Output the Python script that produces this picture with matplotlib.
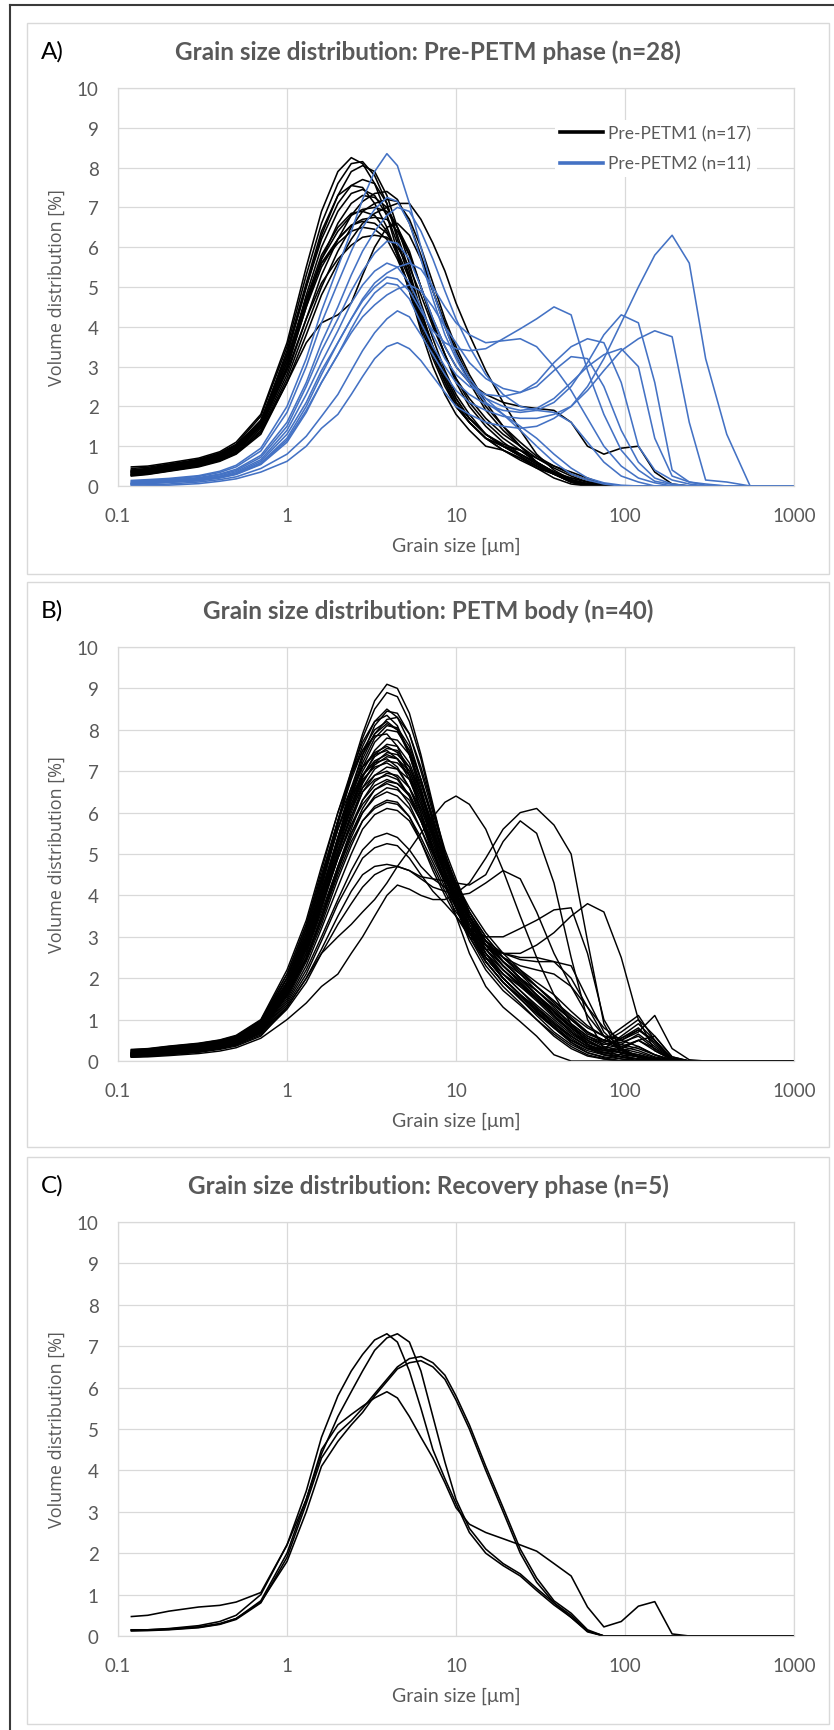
import matplotlib.pyplot as plt
from matplotlib.lines import Line2D
from matplotlib.patches import Rectangle

# grain size classes [um] shared by every measurement
grain_size = [0.12, 0.15, 0.2, 0.3, 0.4, 0.5, 0.7,
              1.0, 1.3, 1.6, 2.0, 2.4, 2.8, 3.3, 3.9, 4.5, 5.3, 6.2, 7.3, 8.6,
              10, 12, 15, 19, 24, 30, 38, 48, 60, 75, 95,
              120, 150, 190, 240, 300, 400, 550, 1000]

# A) Pre-PETM1 samples (volume %)
pre_petm1 = [
    [0.48, 0.5, 0.58, 0.7, 0.86, 1.1, 1.8, 3.6, 5.5, 6.9, 7.9, 8.25, 8.1, 7.6, 6.8, 5.9, 4.9, 3.9, 3.0, 2.3, 1.8, 1.4, 1.0, 0.9, 0.7, 0.45, 0.2, 0.05, 0, 0, 0, 0, 0, 0, 0, 0, 0, 0, 0],
    [0.44, 0.47, 0.55, 0.67, 0.83, 1.05, 1.75, 3.5, 5.3, 6.6, 7.6, 8.1, 8.15, 7.8, 7.1, 6.2, 5.2, 4.2, 3.3, 2.6, 2.0, 1.6, 1.2, 1.0, 0.8, 0.55, 0.3, 0.1, 0, 0, 0, 0, 0, 0, 0, 0, 0, 0, 0],
    [0.4, 0.43, 0.52, 0.64, 0.8, 1.0, 1.65, 3.3, 5.0, 6.3, 7.3, 7.9, 8.05, 7.9, 7.3, 6.5, 5.6, 4.6, 3.7, 2.9, 2.3, 1.8, 1.3, 1.0, 0.8, 0.6, 0.35, 0.15, 0.05, 0, 0, 0, 0, 0, 0, 0, 0, 0, 0],
    [0.36, 0.4, 0.49, 0.61, 0.77, 0.97, 1.6, 3.4, 5.1, 6.4, 7.3, 7.55, 7.5, 7.1, 6.5, 5.8, 4.9, 4.0, 3.2, 2.5, 2.0, 1.6, 1.2, 1.0, 0.9, 0.6, 0.3, 0.1, 0, 0, 0, 0, 0, 0, 0, 0, 0, 0, 0],
    [0.34, 0.38, 0.47, 0.59, 0.75, 0.95, 1.55, 3.1, 4.8, 6.0, 6.9, 7.35, 7.45, 7.3, 6.8, 6.1, 5.3, 4.4, 3.5, 2.7, 2.1, 1.7, 1.3, 1.05, 0.9, 0.7, 0.5, 0.35, 0.2, 0.05, 0, 0, 0, 0, 0, 0, 0, 0, 0],
    [0.3, 0.34, 0.43, 0.55, 0.7, 0.9, 1.5, 2.95, 4.5, 5.7, 6.6, 7.1, 7.3, 7.25, 7.0, 6.5, 5.8, 5.0, 4.2, 3.5, 3.0, 2.6, 2.3, 2.1, 2.0, 1.95, 1.9, 1.6, 1.0, 0.8, 0.95, 1.0, 0.35, 0.05, 0, 0, 0, 0, 0],
    [0.28, 0.32, 0.4, 0.52, 0.66, 0.85, 1.4, 2.8, 4.2, 5.3, 6.2, 6.8, 7.15, 7.35, 7.4, 7.2, 6.6, 5.8, 4.9, 4.0, 3.3, 2.6, 1.9, 1.4, 1.0, 0.6, 0.3, 0.1, 0.02, 0, 0, 0, 0, 0, 0, 0, 0, 0, 0],
    [0.27, 0.3, 0.38, 0.5, 0.64, 0.82, 1.35, 2.7, 4.0, 5.0, 5.9, 6.5, 6.9, 7.1, 7.2, 7.15, 6.7, 6.0, 5.1, 4.2, 3.5, 2.8, 2.1, 1.5, 1.0, 0.6, 0.35, 0.15, 0.05, 0, 0, 0, 0, 0, 0, 0, 0, 0, 0],
    [0.25, 0.29, 0.37, 0.48, 0.62, 0.8, 1.3, 2.6, 3.8, 4.8, 5.6, 6.2, 6.6, 6.85, 7.0, 7.1, 7.1, 6.7, 6.1, 5.4, 4.6, 3.8, 2.9, 2.1, 1.4, 0.8, 0.4, 0.15, 0.05, 0, 0, 0, 0, 0, 0, 0, 0, 0, 0],
    [0.32, 0.36, 0.45, 0.57, 0.73, 0.93, 1.5, 3.0, 4.5, 5.5, 6.2, 6.55, 6.7, 6.75, 6.7, 6.4, 5.8, 5.0, 4.1, 3.3, 2.6, 2.0, 1.5, 1.1, 0.8, 0.55, 0.35, 0.2, 0.1, 0.03, 0, 0, 0, 0, 0, 0, 0, 0, 0],
    [0.36, 0.4, 0.49, 0.61, 0.77, 0.96, 1.55, 3.1, 4.6, 5.6, 6.2, 6.55, 6.65, 6.6, 6.35, 5.9, 5.2, 4.3, 3.5, 2.8, 2.2, 1.7, 1.3, 1.0, 0.75, 0.5, 0.3, 0.15, 0.05, 0, 0, 0, 0, 0, 0, 0, 0, 0, 0],
    [0.38, 0.42, 0.51, 0.63, 0.8, 1.0, 1.6, 3.2, 4.7, 5.6, 6.1, 6.4, 6.5, 6.45, 6.2, 5.7, 5.0, 4.2, 3.4, 2.7, 2.1, 1.6, 1.2, 0.9, 0.65, 0.45, 0.3, 0.2, 0.1, 0.03, 0, 0, 0, 0, 0, 0, 0, 0, 0],
    [0.32, 0.36, 0.45, 0.57, 0.72, 0.92, 1.5, 3.0, 4.6, 5.7, 6.4, 6.8, 6.95, 7.0, 6.9, 6.5, 5.9, 5.0, 4.1, 3.3, 2.7, 2.1, 1.6, 1.2, 0.9, 0.6, 0.35, 0.15, 0.05, 0, 0, 0, 0, 0, 0, 0, 0, 0, 0],
    [0.4, 0.44, 0.53, 0.65, 0.81, 1.02, 1.65, 3.3, 5.0, 6.2, 7.1, 7.55, 7.7, 7.6, 7.1, 6.3, 5.4, 4.4, 3.5, 2.8, 2.2, 1.7, 1.3, 1.0, 0.75, 0.5, 0.3, 0.1, 0.03, 0, 0, 0, 0, 0, 0, 0, 0, 0, 0],
    [0.35, 0.39, 0.48, 0.6, 0.76, 0.96, 1.55, 3.2, 4.7, 5.8, 6.5, 6.85, 6.9, 6.8, 6.4, 5.8, 5.0, 4.1, 3.3, 2.6, 2.0, 1.6, 1.2, 0.9, 0.7, 0.5, 0.3, 0.15, 0.05, 0, 0, 0, 0, 0, 0, 0, 0, 0, 0],
    [0.27, 0.31, 0.39, 0.5, 0.64, 0.82, 1.35, 2.6, 3.6, 4.1, 4.3, 4.6, 5.3, 6.0, 6.5, 6.6, 6.3, 5.7, 4.9, 4.1, 3.4, 2.7, 2.0, 1.5, 1.1, 0.75, 0.5, 0.3, 0.15, 0.05, 0, 0, 0, 0, 0, 0, 0, 0, 0],
    [0.29, 0.33, 0.41, 0.53, 0.68, 0.87, 1.45, 2.9, 4.2, 5.1, 5.7, 6.05, 6.25, 6.3, 6.25, 6.0, 5.5, 4.8, 4.0, 3.3, 2.7, 2.2, 1.7, 1.3, 1.0, 0.7, 0.45, 0.25, 0.1, 0.03, 0, 0, 0, 0, 0, 0, 0, 0, 0],
]

# A) Pre-PETM2 samples
pre_petm2 = [
    [0.14, 0.16, 0.19, 0.26, 0.37, 0.52, 0.95, 2.0, 3.2, 4.4, 5.5, 6.4, 7.2, 7.9, 8.35, 8.05, 7.1, 6.0, 4.9, 4.0, 3.3, 2.7, 2.2, 1.8, 1.4, 1.0, 0.6, 0.3, 0.15, 0.05, 0, 0, 0, 0, 0, 0, 0, 0, 0],
    [0.12, 0.14, 0.17, 0.24, 0.34, 0.48, 0.88, 1.85, 3.0, 4.1, 5.1, 5.9, 6.5, 6.95, 7.25, 7.15, 6.6, 5.7, 4.7, 3.8, 3.2, 2.6, 2.1, 1.8, 1.5, 1.2, 0.8, 0.45, 0.2, 0.08, 0.02, 0, 0, 0, 0, 0, 0, 0, 0],
    [0.1, 0.12, 0.15, 0.21, 0.3, 0.42, 0.77, 1.6, 2.6, 3.6, 4.5, 5.3, 5.9, 6.4, 6.8, 7.0, 6.9, 6.4, 5.7, 4.9, 4.2, 3.5, 2.8, 2.3, 2.0, 1.9, 1.85, 1.6, 1.1, 0.6, 0.25, 0.1, 0, 0, 0, 0, 0, 0, 0],
    [0.08, 0.1, 0.13, 0.19, 0.28, 0.39, 0.72, 1.5, 2.5, 3.4, 4.2, 4.9, 5.4, 5.85, 6.15, 6.1, 5.7, 5.0, 4.2, 3.5, 3.0, 2.6, 2.2, 2.0, 1.9, 1.95, 2.2, 2.6, 3.0, 3.3, 3.45, 3.0, 1.2, 0.25, 0.1, 0.02, 0, 0, 0],
    [0.07, 0.09, 0.12, 0.17, 0.25, 0.36, 0.66, 1.4, 2.3, 3.1, 3.9, 4.6, 5.05, 5.4, 5.6, 5.5, 5.1, 4.5, 3.8, 3.2, 2.8, 2.5, 2.3, 2.25, 2.35, 2.6, 3.1, 3.5, 3.7, 3.6, 2.6, 1.0, 0.4, 0.15, 0.05, 0, 0, 0, 0],
    [0.06, 0.08, 0.11, 0.16, 0.23, 0.33, 0.62, 1.3, 2.1, 2.9, 3.6, 4.2, 4.7, 5.1, 5.35, 5.5, 5.6, 5.45, 5.0, 4.5, 4.1, 3.8, 3.6, 3.65, 3.7, 3.5, 3.0, 2.4, 1.7, 1.0, 0.5, 0.2, 0.08, 0, 0, 0, 0, 0, 0],
    [0.05, 0.07, 0.1, 0.15, 0.22, 0.31, 0.58, 1.2, 2.0, 2.8, 3.6, 4.2, 4.65, 5.0, 5.25, 5.2, 4.9, 4.4, 3.9, 3.6, 3.45, 3.4, 3.45, 3.7, 3.95, 4.2, 4.5, 4.3, 2.9, 1.8, 0.9, 0.4, 0.12, 0.04, 0, 0, 0, 0, 0],
    [0.04, 0.06, 0.09, 0.13, 0.2, 0.29, 0.54, 1.1, 1.85, 2.6, 3.3, 3.95, 4.45, 4.85, 5.1, 5.05, 4.7, 4.1, 3.5, 3.0, 2.6, 2.3, 2.05, 1.9, 1.85, 1.9, 2.1, 2.5, 3.1, 3.8, 4.3, 4.1, 2.6, 0.4, 0.1, 0.05, 0, 0, 0],
    [0.02, 0.03, 0.05, 0.1, 0.16, 0.23, 0.44, 0.8, 1.25, 1.75, 2.3, 2.9, 3.4, 3.85, 4.2, 4.4, 4.25, 3.8, 3.3, 2.8, 2.4, 2.1, 1.9, 1.75, 1.7, 1.7, 1.8, 2.0, 2.4, 2.9, 3.4, 3.7, 3.9, 3.75, 1.6, 0.15, 0.1, 0, 0],
    [0.0, 0.01, 0.02, 0.06, 0.12, 0.18, 0.35, 0.62, 1.0, 1.45, 1.8, 2.3, 2.75, 3.2, 3.5, 3.6, 3.45, 3.15, 2.75, 2.35, 2.0, 1.8, 1.6, 1.5, 1.45, 1.5, 1.7, 2.0, 2.5, 3.2, 4.1, 5.0, 5.8, 6.3, 5.6, 3.2, 1.3, 0, 0],
    [0.05, 0.07, 0.1, 0.14, 0.21, 0.3, 0.56, 1.15, 1.9, 2.6, 3.3, 3.85, 4.25, 4.55, 4.8, 4.95, 5.05, 4.9, 4.5, 4.0, 3.6, 3.1, 2.7, 2.45, 2.35, 2.5, 2.9, 3.25, 3.2, 2.5, 1.4, 0.6, 0.2, 0.05, 0, 0, 0, 0, 0],
]

# B) PETM body samples
petm_body = [
    [0.2, 0.22, 0.27, 0.34, 0.42, 0.52, 0.88, 1.9, 3.1, 4.3, 5.8, 7.0, 7.9, 8.7, 9.1, 9.0, 8.4, 7.4, 6.2, 5.0, 4.1, 3.2, 2.4, 1.9, 1.5, 1.1, 0.7, 0.4, 0.2, 0.1, 0.05, 0, 0, 0, 0, 0, 0, 0, 0],
    [0.18, 0.2, 0.25, 0.32, 0.4, 0.5, 0.85, 1.85, 3.0, 4.2, 5.7, 6.9, 7.8, 8.5, 8.9, 8.8, 8.2, 7.3, 6.1, 5.0, 4.2, 3.4, 2.6, 2.0, 1.6, 1.2, 0.8, 0.45, 0.25, 0.15, 0.1, 0.05, 0, 0, 0, 0, 0, 0, 0],
    [0.25, 0.27, 0.32, 0.4, 0.48, 0.58, 0.95, 2.0, 3.2, 4.4, 5.8, 6.9, 7.6, 8.2, 8.5, 8.3, 7.7, 6.8, 5.8, 4.8, 4.0, 3.2, 2.5, 2.0, 1.6, 1.2, 0.85, 0.5, 0.3, 0.2, 0.25, 0.35, 0.15, 0, 0, 0, 0, 0, 0],
    [0.16, 0.18, 0.23, 0.3, 0.38, 0.48, 0.82, 1.8, 2.9, 4.0, 5.4, 6.5, 7.4, 8.1, 8.45, 8.4, 7.9, 7.0, 6.0, 5.0, 4.3, 3.5, 2.8, 2.3, 1.9, 1.5, 1.1, 0.7, 0.4, 0.25, 0.3, 0.5, 0.3, 0.05, 0, 0, 0, 0, 0],
    [0.27, 0.29, 0.35, 0.42, 0.5, 0.6, 0.98, 2.1, 3.3, 4.6, 6.0, 7.0, 7.7, 8.2, 8.35, 8.1, 7.4, 6.5, 5.5, 4.5, 3.7, 2.9, 2.2, 1.7, 1.35, 1.0, 0.6, 0.3, 0.12, 0.05, 0, 0, 0, 0, 0, 0, 0, 0, 0],
    [0.15, 0.17, 0.22, 0.29, 0.37, 0.47, 0.8, 1.7, 2.8, 3.9, 5.3, 6.4, 7.3, 7.9, 8.25, 8.3, 7.9, 7.1, 6.1, 5.1, 4.4, 3.6, 2.9, 2.4, 2.0, 1.6, 1.2, 0.8, 0.5, 0.3, 0.2, 0.1, 0.03, 0, 0, 0, 0, 0, 0],
    [0.23, 0.25, 0.3, 0.38, 0.46, 0.56, 0.93, 2.0, 3.2, 4.4, 5.8, 6.8, 7.5, 8.0, 8.2, 8.0, 7.4, 6.5, 5.5, 4.6, 3.9, 3.1, 2.4, 1.9, 1.5, 1.15, 0.8, 0.5, 0.3, 0.3, 0.55, 0.8, 0.4, 0.05, 0, 0, 0, 0, 0],
    [0.2, 0.22, 0.27, 0.35, 0.43, 0.53, 0.9, 1.9, 3.0, 4.2, 5.6, 6.6, 7.4, 7.9, 8.15, 8.0, 7.5, 6.6, 5.6, 4.7, 4.0, 3.2, 2.5, 2.0, 1.6, 1.25, 0.9, 0.6, 0.35, 0.2, 0.15, 0.1, 0.05, 0, 0, 0, 0, 0, 0],
    [0.17, 0.19, 0.24, 0.31, 0.39, 0.49, 0.83, 1.75, 2.85, 3.95, 5.3, 6.4, 7.2, 7.8, 8.1, 8.05, 7.6, 6.8, 5.8, 4.9, 4.2, 3.4, 2.7, 2.2, 1.8, 1.45, 1.05, 0.7, 0.45, 0.3, 0.4, 0.65, 0.35, 0.05, 0, 0, 0, 0, 0],
    [0.21, 0.23, 0.28, 0.36, 0.44, 0.54, 0.9, 1.9, 3.0, 4.1, 5.4, 6.4, 7.1, 7.7, 8.0, 7.95, 7.5, 6.8, 5.9, 4.9, 4.1, 3.3, 2.6, 2.1, 1.7, 1.3, 0.9, 0.55, 0.3, 0.15, 0.1, 0.05, 0.02, 0, 0, 0, 0, 0, 0],
    [0.28, 0.3, 0.36, 0.43, 0.51, 0.62, 1.0, 2.2, 3.4, 4.7, 6.0, 6.9, 7.5, 7.85, 7.9, 7.6, 6.9, 6.0, 5.1, 4.3, 3.5, 2.6, 1.8, 1.3, 0.95, 0.6, 0.15, 0, 0, 0, 0, 0, 0, 0, 0, 0, 0, 0, 0],
    [0.18, 0.2, 0.25, 0.32, 0.4, 0.5, 0.85, 1.8, 2.9, 4.0, 5.3, 6.3, 7.0, 7.5, 7.8, 7.75, 7.4, 6.7, 5.8, 4.9, 4.2, 3.5, 2.8, 2.3, 1.9, 1.55, 1.2, 0.85, 0.55, 0.4, 0.5, 0.75, 0.45, 0.05, 0, 0, 0, 0, 0],
    [0.16, 0.18, 0.23, 0.3, 0.38, 0.48, 0.8, 1.7, 2.7, 3.8, 5.1, 6.1, 6.85, 7.4, 7.65, 7.6, 7.2, 6.5, 5.7, 4.9, 4.2, 3.5, 2.9, 2.4, 2.0, 1.6, 1.2, 0.8, 0.5, 0.3, 0.2, 0.1, 0.05, 0, 0, 0, 0, 0, 0],
    [0.24, 0.26, 0.31, 0.39, 0.47, 0.57, 0.93, 2.0, 3.1, 4.3, 5.6, 6.5, 7.1, 7.45, 7.6, 7.45, 7.0, 6.3, 5.4, 4.6, 3.9, 3.1, 2.4, 1.9, 1.55, 1.2, 0.85, 0.5, 0.3, 0.2, 0.3, 0.5, 0.6, 0.1, 0, 0, 0, 0, 0],
    [0.19, 0.21, 0.26, 0.33, 0.41, 0.51, 0.86, 1.85, 2.9, 4.0, 5.3, 6.2, 6.9, 7.35, 7.55, 7.5, 7.1, 6.4, 5.6, 4.8, 4.1, 3.4, 2.7, 2.2, 1.85, 1.5, 1.15, 0.8, 0.5, 0.3, 0.2, 0.1, 0.05, 0, 0, 0, 0, 0, 0],
    [0.26, 0.28, 0.34, 0.41, 0.49, 0.6, 0.97, 2.1, 3.3, 4.5, 5.8, 6.6, 7.1, 7.4, 7.5, 7.3, 6.8, 6.1, 5.3, 4.5, 3.8, 3.0, 2.3, 1.8, 1.4, 1.0, 0.65, 0.35, 0.15, 0.05, 0, 0, 0, 0, 0, 0, 0, 0, 0],
    [0.14, 0.16, 0.21, 0.28, 0.36, 0.46, 0.77, 1.6, 2.6, 3.7, 5.0, 6.0, 6.7, 7.2, 7.45, 7.4, 7.1, 6.5, 5.7, 4.9, 4.3, 3.6, 3.0, 2.5, 2.1, 1.7, 1.3, 0.9, 0.6, 0.45, 0.7, 1.0, 0.6, 0.1, 0, 0, 0, 0, 0],
    [0.2, 0.22, 0.27, 0.35, 0.43, 0.53, 0.88, 1.9, 3.0, 4.1, 5.4, 6.3, 6.9, 7.25, 7.4, 7.3, 6.9, 6.2, 5.4, 4.6, 3.9, 3.2, 2.5, 2.0, 1.6, 1.25, 0.9, 0.6, 0.35, 0.25, 0.35, 0.5, 0.25, 0.03, 0, 0, 0, 0, 0],
    [0.17, 0.19, 0.24, 0.31, 0.39, 0.49, 0.82, 1.75, 2.8, 3.9, 5.2, 6.1, 6.75, 7.15, 7.35, 7.3, 7.0, 6.4, 5.6, 4.8, 4.2, 3.5, 2.8, 2.3, 1.9, 1.5, 1.1, 0.75, 0.45, 0.3, 0.2, 0.15, 0.05, 0, 0, 0, 0, 0, 0],
    [0.23, 0.25, 0.3, 0.38, 0.46, 0.56, 0.92, 2.0, 3.2, 4.4, 5.6, 6.4, 6.9, 7.2, 7.3, 7.1, 6.6, 5.9, 5.1, 4.4, 3.8, 3.1, 2.5, 2.0, 1.6, 1.3, 0.95, 0.6, 0.35, 0.3, 0.6, 0.9, 0.5, 0.05, 0, 0, 0, 0, 0],
    [0.15, 0.17, 0.22, 0.29, 0.37, 0.47, 0.78, 1.7, 2.7, 3.8, 5.0, 5.9, 6.6, 7.05, 7.25, 7.2, 6.9, 6.3, 5.5, 4.8, 4.2, 3.5, 2.9, 2.4, 2.0, 1.7, 1.35, 1.0, 0.7, 0.5, 0.4, 0.3, 0.15, 0.03, 0, 0, 0, 0, 0],
    [0.19, 0.21, 0.26, 0.34, 0.42, 0.52, 0.86, 1.85, 2.9, 4.0, 5.3, 6.2, 6.8, 7.1, 7.2, 7.05, 6.6, 6.0, 5.2, 4.5, 3.9, 3.2, 2.6, 2.1, 1.7, 1.35, 1.0, 0.65, 0.4, 0.25, 0.2, 0.15, 0.05, 0, 0, 0, 0, 0, 0],
    [0.13, 0.15, 0.2, 0.27, 0.35, 0.44, 0.74, 1.65, 2.6, 3.7, 4.9, 5.8, 6.5, 6.9, 7.1, 7.05, 6.8, 6.2, 5.5, 4.8, 4.3, 3.7, 3.1, 2.6, 2.2, 1.8, 1.4, 1.0, 0.65, 0.5, 0.8, 1.1, 0.5, 0.05, 0, 0, 0, 0, 0],
    [0.22, 0.24, 0.29, 0.37, 0.45, 0.55, 0.9, 1.9, 3.0, 4.1, 5.3, 6.1, 6.6, 6.9, 7.0, 6.85, 6.4, 5.8, 5.0, 4.3, 3.7, 3.0, 2.4, 1.9, 1.5, 1.15, 0.8, 0.45, 0.2, 0.08, 0, 0, 0, 0, 0, 0, 0, 0, 0],
    [0.12, 0.14, 0.19, 0.26, 0.34, 0.43, 0.72, 1.6, 2.5, 3.5, 4.7, 5.6, 6.3, 6.75, 6.95, 6.9, 6.6, 6.1, 5.4, 4.7, 4.2, 3.6, 3.0, 2.5, 2.15, 1.8, 1.45, 1.1, 0.8, 0.6, 0.5, 0.7, 1.1, 0.3, 0.03, 0, 0, 0, 0],
    [0.18, 0.2, 0.25, 0.33, 0.41, 0.51, 0.84, 1.8, 2.8, 3.9, 5.1, 5.9, 6.5, 6.8, 6.9, 6.8, 6.4, 5.8, 5.1, 4.4, 3.8, 3.1, 2.5, 2.1, 1.8, 1.5, 1.2, 0.85, 0.55, 0.35, 0.25, 0.15, 0.05, 0, 0, 0, 0, 0, 0],
    [0.16, 0.18, 0.23, 0.31, 0.39, 0.49, 0.8, 1.7, 2.7, 3.7, 4.9, 5.7, 6.3, 6.65, 6.8, 6.7, 6.4, 5.8, 5.1, 4.4, 3.9, 3.2, 2.7, 2.3, 1.95, 1.6, 1.25, 0.9, 0.6, 0.4, 0.45, 0.6, 0.3, 0.03, 0, 0, 0, 0, 0],
    [0.13, 0.15, 0.2, 0.27, 0.35, 0.45, 0.74, 1.55, 2.45, 3.4, 4.6, 5.5, 6.1, 6.55, 6.75, 6.7, 6.45, 5.9, 5.3, 4.6, 4.0, 3.4, 2.8, 2.4, 2.0, 1.7, 1.35, 1.0, 0.7, 0.5, 0.35, 0.25, 0.1, 0.02, 0, 0, 0, 0, 0],
    [0.17, 0.19, 0.24, 0.32, 0.4, 0.5, 0.82, 1.75, 2.75, 3.8, 4.9, 5.7, 6.2, 6.55, 6.7, 6.6, 6.2, 5.6, 4.9, 4.3, 3.7, 3.1, 2.6, 2.2, 1.85, 1.5, 1.1, 0.7, 0.4, 0.2, 0.1, 0.05, 0, 0, 0, 0, 0, 0, 0],
    [0.14, 0.16, 0.21, 0.28, 0.36, 0.46, 0.76, 1.6, 2.5, 3.5, 4.6, 5.4, 6.0, 6.4, 6.6, 6.55, 6.3, 5.8, 5.2, 4.5, 4.0, 3.4, 2.9, 2.5, 2.2, 1.9, 1.6, 1.2, 0.85, 0.6, 0.55, 0.75, 0.5, 0.05, 0, 0, 0, 0, 0],
    [0.15, 0.17, 0.22, 0.3, 0.38, 0.47, 0.78, 1.7, 2.6, 3.6, 4.7, 5.5, 6.0, 6.35, 6.5, 6.4, 6.1, 5.6, 5.0, 4.4, 3.9, 3.3, 2.8, 2.4, 2.1, 1.8, 1.45, 1.05, 0.7, 0.45, 0.3, 0.2, 0.08, 0, 0, 0, 0, 0, 0],
    [0.13, 0.15, 0.2, 0.27, 0.35, 0.44, 0.73, 1.5, 2.4, 3.3, 4.4, 5.2, 5.8, 6.15, 6.3, 6.25, 5.9, 5.3, 4.6, 4.0, 3.5, 3.0, 2.7, 2.6, 2.6, 2.8, 3.1, 3.5, 3.8, 3.6, 2.5, 1.0, 0.25, 0.03, 0, 0, 0, 0, 0],
    [0.16, 0.18, 0.23, 0.3, 0.38, 0.48, 0.8, 1.6, 2.5, 3.4, 4.5, 5.3, 5.8, 6.1, 6.25, 6.2, 5.9, 5.4, 4.8, 4.2, 3.7, 3.2, 2.8, 2.5, 2.3, 2.2, 2.1, 1.8, 1.3, 0.8, 0.5, 0.35, 0.15, 0.02, 0, 0, 0, 0, 0],
    [0.12, 0.14, 0.19, 0.26, 0.34, 0.43, 0.71, 1.45, 2.3, 3.2, 4.2, 5.0, 5.6, 5.95, 6.1, 6.05, 5.8, 5.3, 4.7, 4.1, 3.6, 3.2, 3.0, 3.0, 3.2, 3.4, 3.65, 3.7, 2.6, 1.0, 0.3, 0.1, 0, 0, 0, 0, 0, 0, 0],
    [0.12, 0.14, 0.18, 0.25, 0.33, 0.42, 0.7, 1.4, 2.2, 3.0, 3.9, 4.6, 5.1, 5.4, 5.5, 5.4, 5.1, 4.7, 4.4, 4.2, 4.0, 4.05, 4.3, 4.6, 4.4, 3.6, 2.6, 1.8, 1.1, 0.6, 0.3, 0.1, 0, 0, 0, 0, 0, 0, 0],
    [0.11, 0.13, 0.17, 0.24, 0.32, 0.41, 0.68, 1.35, 2.1, 2.9, 3.8, 4.4, 4.9, 5.15, 5.25, 5.2, 4.9, 4.5, 4.1, 3.8, 3.5, 3.1, 2.8, 2.6, 2.45, 2.4, 2.4, 2.3, 1.5, 0.7, 0.3, 0.1, 0, 0, 0, 0, 0, 0, 0],
    [0.11, 0.13, 0.17, 0.23, 0.31, 0.4, 0.66, 1.3, 2.0, 2.7, 3.5, 4.1, 4.5, 4.7, 4.75, 4.7, 4.6, 4.45, 4.4, 4.35, 4.3, 4.25, 4.5, 5.3, 5.8, 5.5, 4.3, 2.5, 1.0, 0.3, 0.1, 0, 0, 0, 0, 0, 0, 0, 0],
    [0.1, 0.12, 0.16, 0.22, 0.3, 0.38, 0.63, 1.25, 1.9, 2.6, 3.3, 3.8, 4.2, 4.5, 4.65, 4.7, 4.6, 4.4, 4.2, 4.1, 4.0, 3.5, 2.9, 2.6, 2.5, 2.5, 2.4, 2.0, 1.3, 0.6, 0.25, 0.1, 0, 0, 0, 0, 0, 0, 0],
    [0.09, 0.1, 0.13, 0.18, 0.24, 0.32, 0.55, 1.0, 1.4, 1.8, 2.1, 2.6, 3.0, 3.5, 4.0, 4.25, 4.15, 4.0, 3.9, 3.9, 4.05, 4.3, 4.9, 5.6, 6.0, 6.1, 5.7, 5.0, 2.9, 0.9, 0.15, 0.03, 0, 0, 0, 0, 0, 0, 0],
    [0.1, 0.12, 0.15, 0.21, 0.28, 0.36, 0.6, 1.3, 2.0, 2.6, 3.0, 3.3, 3.6, 3.9, 4.3, 4.7, 5.1, 5.5, 5.9, 6.25, 6.4, 6.2, 5.6, 4.6, 3.5, 2.5, 1.6, 0.9, 0.4, 0.15, 0.05, 0, 0, 0, 0, 0, 0, 0, 0],
]

# C) Recovery phase samples
recovery = [
    [0.15, 0.15, 0.18, 0.25, 0.35, 0.5, 1.0, 2.2, 3.5, 4.8, 5.8, 6.4, 6.8, 7.15, 7.3, 7.1, 6.4, 5.5, 4.5, 3.8, 3.2, 2.5, 2.0, 1.7, 1.45, 1.1, 0.75, 0.45, 0.1, 0, 0, 0, 0, 0, 0, 0, 0, 0, 0],
    [0.15, 0.15, 0.17, 0.22, 0.3, 0.42, 0.85, 2.0, 3.3, 4.4, 5.3, 5.9, 6.4, 6.9, 7.2, 7.3, 7.1, 6.4, 5.3, 4.2, 3.3, 2.6, 2.1, 1.75, 1.5, 1.15, 0.8, 0.45, 0.12, 0, 0, 0, 0, 0, 0, 0, 0, 0, 0],
    [0.12, 0.13, 0.15, 0.2, 0.28, 0.4, 0.8, 1.9, 3.2, 4.3, 4.9, 5.2, 5.5, 5.85, 6.2, 6.5, 6.7, 6.75, 6.6, 6.3, 5.8, 5.1, 4.1, 3.1, 2.1, 1.4, 0.85, 0.55, 0.15, 0, 0, 0, 0, 0, 0, 0, 0, 0, 0],
    [0.14, 0.14, 0.16, 0.21, 0.29, 0.42, 0.82, 1.8, 3.0, 4.1, 4.7, 5.1, 5.4, 5.8, 6.15, 6.45, 6.6, 6.65, 6.5, 6.2, 5.7, 5.0, 4.0, 3.0, 2.0, 1.3, 0.8, 0.5, 0.12, 0, 0, 0, 0, 0, 0, 0, 0, 0, 0],
    [0.47, 0.5, 0.6, 0.7, 0.74, 0.82, 1.05, 2.2, 3.3, 4.5, 5.1, 5.35, 5.55, 5.75, 5.9, 5.75, 5.3, 4.8, 4.3, 3.7, 3.1, 2.7, 2.5, 2.35, 2.2, 2.05, 1.75, 1.45, 0.7, 0.22, 0.35, 0.72, 0.83, 0.05, 0, 0, 0, 0, 0],
]

x_ticks = [0.1, 1, 10, 100, 1000]
x_tick_labels = ["0.1", "1", "10", "100", "1000"]
y_ticks = list(range(0, 11))

BLACK = "#000000"
BLUE = "#4472C4"
GRAY = "#595959"
GRID = "#d9d9d9"

W, H = 834, 1731
fig = plt.figure(figsize=(W / 100, H / 100), dpi=100)


def fx(px):
    return px / W


def fy(py):
    return 1 - py / H


# outer frame (only top/left edges show in the crop)
fig.add_artist(Line2D([fx(9.5), fx(9.5)], [0, fy(6)], color="#3a3a3a", lw=1.5))
fig.add_artist(Line2D([fx(9.5), 1], [fy(6), fy(6)], color="#3a3a3a", lw=1.5))

panels = [
    # letter, title, box top/bottom, plot top/bottom
    ("A)", "Grain size distribution: Pre-PETM phase (n=28)", 24, 575, 89, 487),
    ("B)", "Grain size distribution: PETM body (n=40)", 583, 1148, 648, 1062),
    ("C)", "Grain size distribution: Recovery phase (n=5)", 1158, 1725, 1223, 1637),
]

axes = []
for letter, title, btop, bbot, ptop, pbot in panels:
    fig.add_artist(Rectangle((fx(27), fy(bbot)), (829 - 27) / W, (bbot - btop) / H,
                             transform=fig.transFigure, facecolor="white",
                             edgecolor=GRID, lw=1.0, zorder=0))
    ytxt = fy(btop + 28)
    fig.text(fx(52), ytxt, letter, ha="center", va="center", fontsize=17.5,
             family="Lato", color="black")
    fig.text(fx(428), ytxt, title, ha="center", va="center", fontsize=17.5,
             family="Lato", fontweight="bold", color=GRAY)

    ax = fig.add_axes([fx(118), fy(pbot), (794 - 118) / W, (pbot - ptop) / H])
    ax.set_xscale("log")
    ax.set_xlim(0.1, 1000)
    ax.set_ylim(0, 10)
    ax.set_xticks(x_ticks)
    ax.set_xticklabels(x_tick_labels)
    ax.xaxis.set_minor_locator(plt.NullLocator())
    ax.set_yticks(y_ticks)
    ax.grid(True, color=GRID, lw=0.9)
    ax.set_axisbelow(True)
    for s in ax.spines.values():
        s.set_color(GRID)
        s.set_linewidth(0.9)
    ax.tick_params(length=0, labelsize=13.5, labelcolor=GRAY)
    ax.tick_params(axis="x", pad=15)
    ax.tick_params(axis="y", pad=14)
    for lab in ax.get_xticklabels() + ax.get_yticklabels():
        lab.set_family("Lato")
    ax.set_xlabel("Grain size [\u03bcm]", fontsize=14, family="Lato", color=GRAY, labelpad=9)
    ax.set_ylabel("Volume distribution [%]", fontsize=13, family="Open Sans", color=GRAY,
                  labelpad=8)
    axes.append(ax)

ax_a, ax_b, ax_c = axes

for row in pre_petm1:
    ax_a.plot(grain_size, row, color=BLACK, lw=1.15)
for row in pre_petm2:
    ax_a.plot(grain_size, row, color=BLUE, lw=1.15)
for row in petm_body:
    ax_b.plot(grain_size, row, color=BLACK, lw=1.05)
for row in recovery:
    ax_c.plot(grain_size, row, color=BLACK, lw=1.15)

handles = [Line2D([], [], color=BLACK, lw=2.6), Line2D([], [], color=BLUE, lw=2.6)]
leg = ax_a.legend(handles, ["Pre-PETM1 (n=17)", "Pre-PETM2 (n=11)"], loc="upper left",
                  bbox_to_anchor=((546 - 118) / 676, (487 - 112) / 398),
                  frameon=True, fancybox=False, edgecolor="none", facecolor="white",
                  framealpha=1, borderpad=0.3, labelspacing=0.85, handlelength=2.5,
                  handletextpad=0.3, prop=dict(family="Lato", size=12.5))
for t in leg.get_texts():
    t.set_color(GRAY)

fig.savefig("out.png", dpi=100)
